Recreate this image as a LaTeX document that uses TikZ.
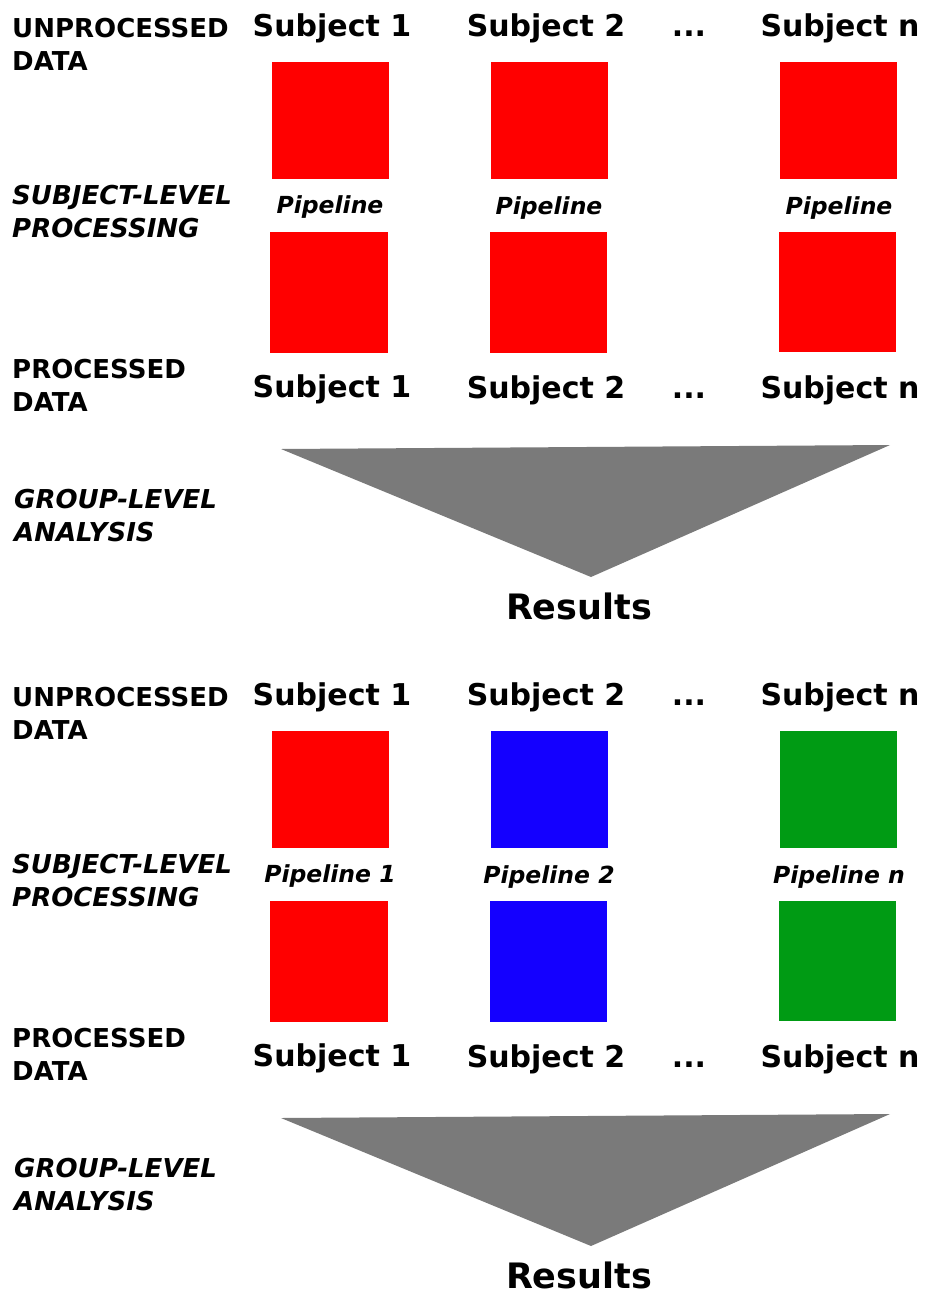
\documentclass[tikz,border=0pt]{standalone}
\usepackage{fontspec}
\setmainfont{DejaVu Sans}
\usepackage{xcolor}
\definecolor{procred}{RGB}{255, 0, 0}
\definecolor{procblue}{RGB}{20, 0, 255}
\definecolor{procgreen}{RGB}{0, 155, 20}
\definecolor{funnelgray}{RGB}{122, 122, 122}
\usepackage{tikz}
\usetikzlibrary{positioning}

\tikzset{
    stagelabel/.style={anchor=base west, align=left, inner sep=0pt, font=\fontsize{26}{33}\selectfont\bfseries},
    stageitlabel/.style={stagelabel, font=\fontsize{26}{33}\selectfont\bfseries\itshape},
    subjlabel/.style={anchor=base, inner sep=0pt, font=\fontsize{30}{36}\selectfont\bfseries},
    pipelabel/.style={anchor=base, inner sep=0pt, font=\fontsize{23.5}{28}\selectfont\bfseries\itshape},
    resultlabel/.style={anchor=base, inner sep=0pt, font=\fontsize{35}{42}\selectfont\bfseries},
    datasq/.style={inner sep=0pt, minimum width=117pt, minimum height=117pt},
    procsq/.style={datasq, minimum height=121pt},
}

\begin{document}
\begin{tikzpicture}[x=1pt, y=-1pt]
    \useasboundingbox (0,0) rectangle (925,1293);

    \foreach \off/\ca/\cb/\cn/\pa/\pb/\pn [count=\k] in {0/procred/procred/procred/Pipeline/Pipeline/Pipeline, 669/procred/procblue/procgreen/Pipeline 1/Pipeline 2/Pipeline n} {
        % stage names on the left (base = last line)
        \node[stagelabel] (rawlab\k) at (12, {70+\off}) {UNPROCESSED\\DATA};
        \node[stageitlabel] (sublevel\k) at (12, {237+\off}) {SUBJECT-LEVEL\\PROCESSING};
        \node[stagelabel] (proclab\k) at (12, {411+\off}) {PROCESSED\\DATA};
        \node[stageitlabel] (grouplab\k) at (14, {541+\off}) {GROUP-LEVEL\\ANALYSIS};

        % unprocessed subjects
        \node[subjlabel] (rawA\k) at (332, {36+\off}) {Subject 1};
        \node[subjlabel] (rawB\k) at (546, {36+\off}) {Subject 2};
        \node[subjlabel] (rawdots\k) at (689, {36+\off}) {...};
        \node[subjlabel] (rawN\k) at (840, {36+\off}) {Subject n};

        \node[datasq, fill=\ca] (rawsqA\k) at (330.5, {120.5+\off}) {};
        \node[datasq, fill=\cb] (rawsqB\k) at (549.5, {120.5+\off}) {};
        \node[datasq, fill=\cn] (rawsqN\k) at (838.5, {120+\off}) {};

        \node[pipelabel] (pipeA\k) at (330, {213+\off}) {\pa};
        \node[pipelabel] (pipeB\k) at (549, {214+\off}) {\pb};
        \node[pipelabel] (pipeN\k) at (839, {214+\off}) {\pn};

        \node[procsq, minimum width=118pt, fill=\ca] (procsqA\k) at (329, {292.5+\off}) {};
        \node[procsq, fill=\cb] (procsqB\k) at (548.5, {292.5+\off}) {};
        \node[procsq, minimum height=120pt, fill=\cn] (procsqN\k) at (837.5, {292+\off}) {};

        % processed subjects
        \node[subjlabel] (procA\k) at (332, {397+\off}) {Subject 1};
        \node[subjlabel] (procB\k) at (546, {398+\off}) {Subject 2};
        \node[subjlabel] (procdots\k) at (689, {398+\off}) {...};
        \node[subjlabel] (procN\k) at (840, {398+\off}) {Subject n};

        % funnel to results
        \coordinate (fl\k) at (281, {449+\off});
        \coordinate (fr\k) at (890, {445+\off});
        \coordinate (ftip\k) at (591, {577+\off});
        \fill[funnelgray] (fl\k) -- (fr\k) -- (ftip\k) -- cycle;
        \node[resultlabel] (results\k) at (579, {619+\off}) {Results};
    }
\end{tikzpicture}
\end{document}
